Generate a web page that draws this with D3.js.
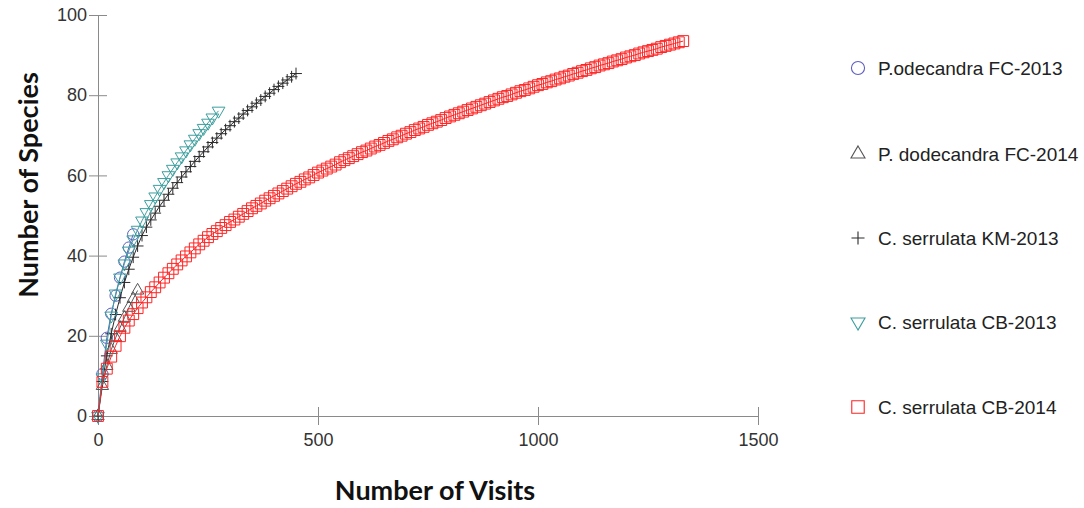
<!DOCTYPE html>
<html>
<head>
<meta charset="utf-8">
<script src="https://cdn.jsdelivr.net/npm/d3@7"></script>
<style>
  html, body { margin: 0; padding: 0; background: #ffffff; }
  svg { display: block; }
</style>
</head>
<body>
<script>
// Species accumulation (rarefaction) curves: number of species vs number of visits.

const xTicks = [0, 500, 1000, 1500];
const yTicks = [0, 20, 40, 60, 80, 100];

const seriesNames = [
  "P.odecandra FC-2013",
  "P. dodecandra FC-2014",
  "C. serrulata KM-2013",
  "C. serrulata CB-2013",
  "C. serrulata CB-2014"
];
const seriesColors = ["#5d5dc2", "#555555", "#2b2b2b", "#3c9e9e", "#ff2424"];

// P.odecandra FC-2013
const fc2013Visits  = [0, 10, 20, 30, 40, 50, 60, 70, 80];
const fc2013Species = [0, 10.5, 19.5, 25.5, 30.0, 34.5, 38.5, 42.0, 45.3];

// P. dodecandra FC-2014
const fc2014Visits  = [0, 10, 20, 30, 40, 50, 60, 70, 80, 90];
const fc2014Species = [0, 7.5, 12.5, 16.5, 19.5, 22.0, 24.5, 27.0, 29.2, 31.3];

// C. serrulata KM-2013
const km2013Visits = [0, 10, 20, 30, 40, 50, 60, 70, 80, 90,
  100, 110, 120, 130, 140, 150, 160, 170, 180, 190,
  200, 210, 220, 230, 240, 250, 260, 270, 280, 290,
  300, 310, 320, 330, 340, 350, 360, 370, 380, 390,
  400, 410, 420, 430, 440, 450];
const km2013Species = [0, 8.6, 15.0, 20.5, 25.3, 29.5, 33.3, 36.6, 39.6, 42.4,
  45.0, 47.1, 48.9, 50.6, 52.3, 53.8, 55.3, 56.8, 58.2, 59.6,
  60.9, 62.2, 63.5, 64.7, 65.9, 67.1, 68.2, 69.3, 70.4, 71.4,
  72.4, 73.4, 74.3, 75.3, 76.2, 77.1, 78.0, 78.8, 79.7, 80.5,
  81.4, 82.2, 83.0, 83.8, 84.6, 85.4];

// C. serrulata CB-2013
const cb2013Visits = [0, 10, 20, 30, 40, 50, 60, 70, 80, 90,
  100, 110, 120, 130, 140, 150, 160, 170, 180, 190,
  200, 210, 220, 230, 240, 250, 260, 274];
const cb2013Species = [0, 9.6, 18.0, 25.0, 30.5, 34.5, 38.0, 41.2, 44.0, 46.4,
  48.7, 50.8, 52.8, 54.7, 56.6, 58.3, 60.0, 61.6, 63.2, 64.7,
  66.2, 67.7, 69.1, 70.5, 71.8, 73.1, 74.4, 76.1];

// C. serrulata CB-2014
const cb2014Visits = [0, 10, 20, 30, 40, 50, 60, 70, 80, 90,
  100, 110, 120, 130, 140, 150, 160, 170, 180, 190,
  200, 210, 220, 230, 240, 250, 260, 270, 280, 290,
  300, 310, 320, 330, 340, 350, 360, 370, 380, 390,
  400, 410, 420, 430, 440, 450, 460, 470, 480, 490,
  500, 510, 520, 530, 540, 550, 560, 570, 580, 590,
  600, 610, 620, 630, 640, 650, 660, 670, 680, 690,
  700, 710, 720, 730, 740, 750, 760, 770, 780, 790,
  800, 810, 820, 830, 840, 850, 860, 870, 880, 890,
  900, 910, 920, 930, 940, 950, 960, 970, 980, 990,
  1000, 1010, 1020, 1030, 1040, 1050, 1060, 1070, 1080, 1090,
  1100, 1110, 1120, 1130, 1140, 1150, 1160, 1170, 1180, 1190,
  1200, 1210, 1220, 1230, 1240, 1250, 1260, 1270, 1280, 1290,
  1300, 1310, 1320, 1330];
const cb2014Species = [0, 8.5, 11.8, 14.8, 17.5, 19.9, 22.0, 23.8, 25.4, 26.9,
  28.3, 29.6, 30.9, 32.1, 33.3, 34.5, 35.6, 36.7, 37.8, 38.8,
  39.8, 40.8, 41.8, 42.8, 43.7, 44.6, 45.4, 46.1, 46.9, 47.6,
  48.4, 49.0, 49.7, 50.4, 51.1, 51.8, 52.4, 53.0, 53.7, 54.3,
  54.9, 55.5, 56.1, 56.7, 57.3, 57.9, 58.4, 59.0, 59.5, 60.1,
  60.7, 61.2, 61.7, 62.2, 62.7, 63.3, 63.8, 64.3, 64.8, 65.3,
  65.8, 66.2, 66.7, 67.2, 67.6, 68.1, 68.6, 69.0, 69.5, 69.9,
  70.4, 70.8, 71.3, 71.7, 72.1, 72.6, 73.0, 73.4, 73.8, 74.3,
  74.7, 75.1, 75.5, 75.9, 76.3, 76.7, 77.1, 77.5, 77.9, 78.3,
  78.7, 79.1, 79.5, 79.8, 80.2, 80.6, 81.0, 81.3, 81.7, 82.1,
  82.5, 82.8, 83.2, 83.5, 83.9, 84.2, 84.6, 84.9, 85.3, 85.6,
  86.0, 86.3, 86.7, 87.0, 87.4, 87.7, 88.0, 88.4, 88.7, 89.0,
  89.4, 89.7, 90.0, 90.4, 90.7, 91.0, 91.3, 91.6, 92.0, 92.3,
  92.6, 92.9, 93.2, 93.5];

// Thin "+" marker (open strokes, not the filled d3 cross)
const symbolPlus = {
  draw(context, size) {
    const r = Math.sqrt(size) / 2;
    context.moveTo(-r, 0); context.lineTo(r, 0);
    context.moveTo(0, -r); context.lineTo(0, r);
  }
};
// Downward-pointing equilateral triangle
const symbolTriangleDown = {
  draw(context, size) {
    const yOff = Math.sqrt(size / (Math.sqrt(3) * 3));
    const w = Math.sqrt(size / Math.sqrt(3) * 4) / 2;
    context.moveTo(0, yOff * 2);
    context.lineTo(-w, -yOff);
    context.lineTo(w, -yOff);
    context.closePath();
  }
};

const seriesSymbols = [d3.symbolCircle, d3.symbolTriangle, symbolPlus, symbolTriangleDown, d3.symbolSquare];
const plotSizes   = [100, 66, 140, 70, 118];
const legendSizes = [135, 85, 170, 85, 155];

const series = [
  { visits: fc2013Visits, species: fc2013Species },
  { visits: fc2014Visits, species: fc2014Species },
  { visits: km2013Visits, species: km2013Species },
  { visits: cb2013Visits, species: cb2013Species },
  { visits: cb2014Visits, species: cb2014Species }
].map((s, i) => ({
  name: seriesNames[i],
  color: seriesColors[i],
  symbol: seriesSymbols[i],
  size: plotSizes[i],
  legendSize: legendSizes[i],
  points: s.visits.map((v, j) => ({ v, s: s.species[j] }))
}));

const W = 1084, H = 508;
const svg = d3.select("body").append("svg").attr("width", W).attr("height", H);

const x = d3.scaleLinear().domain([0, 1500]).range([98, 758]);
const y = d3.scaleLinear().domain([0, 100]).range([416, 15]);

const axisColor = "#8a8a8a";
const tickFont = "'Liberation Sans', Arial, sans-serif";

// X axis with ticks crossing the axis line
const gx = svg.append("g")
  .attr("transform", `translate(0,${y(0)})`)
  .call(d3.axisBottom(x).tickValues(xTicks).tickSize(9).tickSizeOuter(0).tickFormat(d3.format("d")));
gx.select(".domain").attr("stroke", axisColor);
gx.selectAll(".tick line").attr("y1", -9).attr("y2", 9).attr("stroke", axisColor);
gx.selectAll(".tick text")
  .attr("y", 17)
  .attr("fill", "#333")
  .style("font-family", tickFont)
  .style("font-size", "18px");

// Y axis with ticks crossing the axis line
const gy = svg.append("g")
  .attr("transform", `translate(${x(0)},0)`)
  .call(d3.axisLeft(y).tickValues(yTicks).tickSize(9).tickSizeOuter(0));
gy.select(".domain").attr("stroke", axisColor);
gy.selectAll(".tick line").attr("x1", 9).attr("x2", -9).attr("stroke", axisColor);
gy.selectAll(".tick text")
  .attr("x", -11)
  .attr("fill", "#333")
  .style("font-family", tickFont)
  .style("font-size", "18px");

// Axis titles
const titleFont = "Lato, 'Open Sans', sans-serif";
svg.append("text")
  .attr("x", 435).attr("y", 500)
  .attr("text-anchor", "middle")
  .attr("fill", "#111")
  .style("font-family", titleFont)
  .style("font-weight", "bold")
  .style("font-size", "27px")
  .text("Number of Visits");

svg.append("text")
  .attr("transform", "translate(38,185) rotate(-90)")
  .attr("text-anchor", "middle")
  .attr("fill", "#111")
  .style("font-family", titleFont)
  .style("font-weight", "bold")
  .style("font-size", "27px")
  .text("Number of Species");

// Curves and markers
const line = d3.line().x(d => x(d.v)).y(d => y(d.s));
const plot = svg.append("g");
series.forEach(sr => {
  const g = plot.append("g");
  g.append("path")
    .attr("d", line(sr.points))
    .attr("fill", "none")
    .attr("stroke", sr.color)
    .attr("stroke-width", 1);
  g.selectAll("path.marker")
    .data(sr.points)
    .join("path")
    .attr("class", "marker")
    .attr("transform", d => `translate(${x(d.v)},${y(d.s)})`)
    .attr("d", d3.symbol().type(sr.symbol).size(sr.size))
    .attr("fill", "none")
    .attr("stroke", sr.color)
    .attr("stroke-width", 1);
});

// Legend
const legendY = [68, 154, 238, 322, 407];
const legend = svg.append("g");
series.forEach((sr, i) => {
  legend.append("path")
    .attr("transform", `translate(858,${legendY[i]})`)
    .attr("d", d3.symbol().type(sr.symbol).size(sr.legendSize))
    .attr("fill", "none")
    .attr("stroke", sr.color)
    .attr("stroke-width", 1.1);
  legend.append("text")
    .attr("x", 878).attr("y", legendY[i])
    .attr("dy", "0.36em")
    .attr("fill", "#222")
    .style("font-family", tickFont)
    .style("font-size", "19px")
    .text(sr.name);
});
</script>
</body>
</html>
